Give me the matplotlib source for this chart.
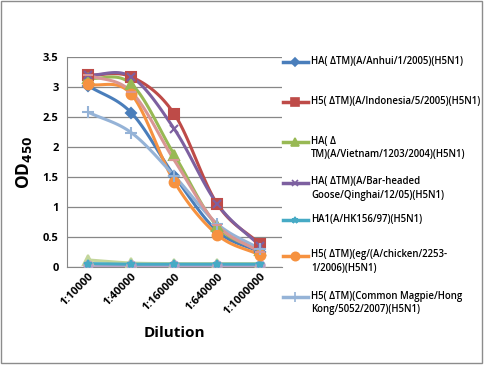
import numpy as np
import matplotlib
matplotlib.use("Agg")
import matplotlib.pyplot as plt
from matplotlib.patches import Rectangle
from matplotlib.lines import Line2D

plt.rcParams['font.family'] = ['Open Sans', 'DejaVu Sans']

dilutions = ["1:10000", "1:40000", "1:160000", "1:640000", "1:1000000"]

anhui = [3.02, 2.57, 1.52, 0.60, 0.25]
indonesia = [3.20, 3.17, 2.55, 1.05, 0.38]
vietnam = [3.15, 3.05, 1.87, 0.68, 0.28]
qinghai = [3.20, 3.17, 2.30, 1.05, 0.35]
hk156 = [0.06, 0.05, 0.05, 0.05, 0.05]
chicken = [3.05, 2.88, 1.42, 0.54, 0.20]
magpie = [2.58, 2.24, 1.52, 0.72, 0.30]
extra_pink = [3.20, 2.92, 1.78, 0.70, 0.25]
extra_green = [0.12, 0.07, 0.06, 0.06, 0.06]
extra_purple = [0.04, 0.04, 0.04, 0.04, 0.04]

labels = [
    "HA( ΔTM)(A/Anhui/1/2005)(H5N1)",
    "H5( ΔTM)(A/Indonesia/5/2005)(H5N1)",
    "HA( Δ\nTM)(A/Vietnam/1203/2004)(H5N1)",
    "HA( ΔTM)(A/Bar-headed\nGoose/Qinghai/12/05)(H5N1)",
    "HA1(A/HK156/97)(H5N1)",
    "H5( ΔTM)(eg/(A/chicken/2253-\n1/2006)(H5N1)",
    "H5( ΔTM)(Common Magpie/Hong\nKong/5052/2007)(H5N1)",
]


def smooth(y, n=20):
    # catmull-rom style curve through the points (like excel "smoothed line")
    x = np.arange(len(y), dtype=float)
    y = np.asarray(y, dtype=float)
    px = np.concatenate([[2 * x[0] - x[1]], x, [2 * x[-1] - x[-2]]])
    py = np.concatenate([[2 * y[0] - y[1]], y, [2 * y[-1] - y[-2]]])
    xs, ys = [], []
    for i in range(1, len(px) - 2):
        t = np.linspace(0, 1, n, endpoint=False)
        for p, out in ((px, xs), (py, ys)):
            p0, p1, p2, p3 = p[i - 1], p[i], p[i + 1], p[i + 2]
            out.extend(0.5 * ((2 * p1) + (-p0 + p2) * t
                              + (2 * p0 - 5 * p1 + 4 * p2 - p3) * t ** 2
                              + (-p0 + 3 * p1 - 3 * p2 + p3) * t ** 3))
    xs.append(x[-1])
    ys.append(y[-1])
    return np.array(xs), np.array(ys)


W, H = 485, 366
fig = plt.figure(figsize=(W / 100, H / 100), dpi=100)
fig.patches.append(Rectangle((0.002, 0.008), 0.992, 0.988, transform=fig.transFigure,
                             fill=False, edgecolor="#8c8c8c", linewidth=1.0))
ax = fig.add_axes([0.138, 0.270, 0.443, 0.574])

series = [
    (extra_green, "#C3D69B", "^", 7),
    (extra_purple, "#B3A2C7", "o", 6),
    (anhui, "#4A7EBB", "D", 5),
    (indonesia, "#BE4B48", "s", 7),
    (vietnam, "#98B954", "^", 7),
    (qinghai, "#7D60A0", "x", 6),
    (hk156, "#46AAC5", "*", 6),
    (chicken, "#F69240", "o", 7),
    (magpie, "#95B3D7", "+", 8),
    (extra_pink, "#D99694", "_", 7),
]

styles = {}
for vals, col, mk, ms in series:
    sx, sy = smooth(vals)
    ax.plot(sx, sy, color=col, lw=2.2, solid_capstyle="round", zorder=3)
    ax.plot(range(len(vals)), vals, ls="none", marker=mk, ms=ms, color=col,
            mec=col, mew=1.5, zorder=4)
    styles[id(vals)] = (col, mk, ms)

legend_series = [anhui, indonesia, vietnam, qinghai, hk156, chicken, magpie]

ax.set_xlim(-0.5, len(dilutions) - 0.5)
ax.set_ylim(0, 3.5)
ax.set_yticks(np.arange(0, 3.51, 0.5))
ax.set_yticklabels(["0", "0.5", "1", "1.5", "2", "2.5", "3", "3.5"],
                   fontsize=8, fontweight="bold")
ax.set_xticks(range(len(dilutions)))
ax.set_xticklabels(dilutions, rotation=45, ha="right", va="top",
                   rotation_mode="anchor", fontsize=8, fontweight="bold")
ax.grid(axis="y", color="#878787", lw=0.9)
ax.set_axisbelow(True)
for s in ["top", "right"]:
    ax.spines[s].set_visible(False)
for s in ["left", "bottom"]:
    ax.spines[s].set_color("#878787")
ax.tick_params(axis="x", length=0, pad=3)
ax.tick_params(axis="y", length=0, pad=6)

ax.set_ylabel("OD$_{\\mathbf{450}}$", fontsize=12.5, fontweight="bold", labelpad=6)
ax.set_xlabel("Dilution", fontsize=11, fontweight="bold", labelpad=6)

# legend like excel: equal slots, key aligned with first text line
leg_y = [62, 102, 142, 183, 220, 256, 297]
for v, lab, yp in zip(legend_series, labels, leg_y):
    col, mk, ms = styles[id(v)]
    yf = 1 - yp / H
    fig.add_artist(Line2D([283 / W, 308 / W], [yf, yf], transform=fig.transFigure,
                          color=col, lw=2.5))
    fig.add_artist(Line2D([295.5 / W], [yf], transform=fig.transFigure, color=col,
                          marker=mk, ms=ms - 1, mec=col, mew=1.2))
    fig.text(311 / W, 1 - (yp - 6.5) / H, lab, ha="left", va="top", fontsize=6.9,
             fontweight="semibold", linespacing=1.3)

fig.savefig("out.png", dpi=100)
